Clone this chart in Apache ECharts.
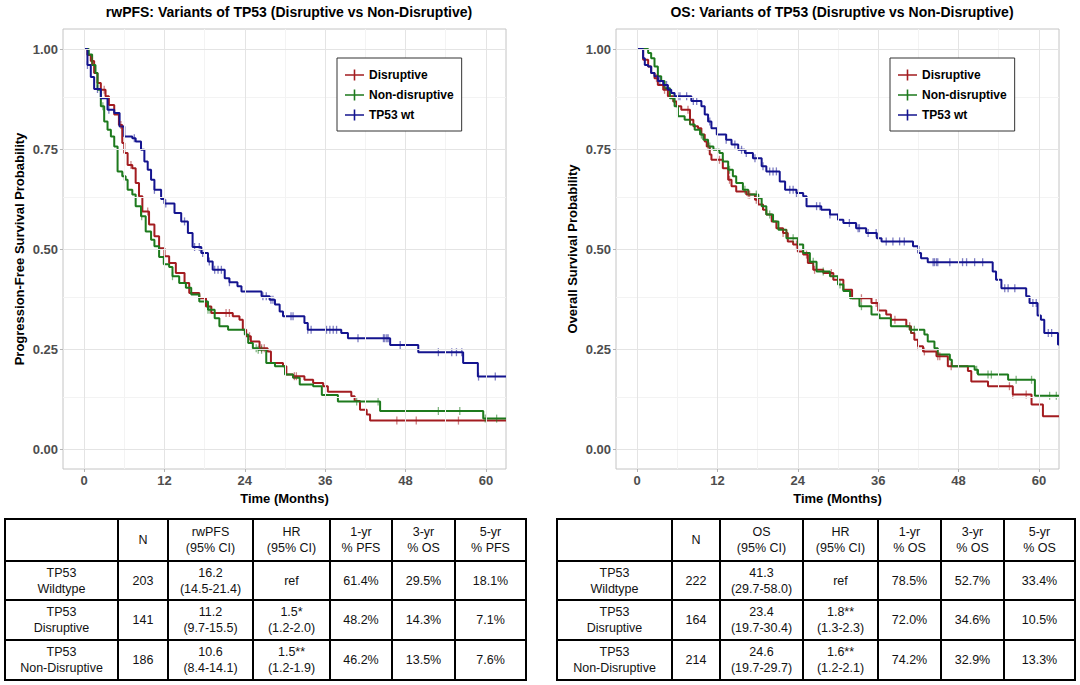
<!DOCTYPE html>
<html>
<head>
<meta charset="utf-8">
<script src="https://cdn.jsdelivr.net/npm/echarts@6/dist/echarts.min.js"></script>
<style>
html, body { margin: 0; padding: 0; background: #fff; }
#main { width: 1080px; height: 685px; }
</style>
</head>
<body>
<div id="main"></div>
<script>
// 曲线数据（月份 / 生存概率）
var pfsWtTime = [0, 0.5, 1, 1.5, 2.5, 3.5, 4.5, 5.3, 6, 7.2, 7.7, 8.5, 9, 9.5, 10, 10.5, 11.5, 12, 13.5, 14.5, 15.5, 16.2, 17.5, 18.5, 19.2, 21, 21.7, 22.9, 23.5, 26.5, 27.7, 28.5, 29.2, 29.7, 32.9, 33.4, 38.4, 39.4, 45.7, 49.9, 56.6, 58.8, 63];
var pfsWtSurv = [1, 0.96, 0.93, 0.9, 0.877, 0.848, 0.84, 0.806, 0.781, 0.777, 0.769, 0.748, 0.719, 0.698, 0.673, 0.648, 0.625, 0.614, 0.59, 0.569, 0.54, 0.505, 0.49, 0.469, 0.448, 0.427, 0.417, 0.407, 0.394, 0.382, 0.373, 0.361, 0.344, 0.332, 0.315, 0.298, 0.29, 0.277, 0.26, 0.242, 0.215, 0.181, 0.181];
var pfsWtCens = [0.5, 2, 3.7, 7.5, 10.5, 12.2, 15, 16.5, 17.2, 17.7, 18.7, 19.5, 20, 20.5, 21.7, 26.7, 27.2, 27.9, 28.2, 30.9, 31.2, 33.4, 33.9, 36.2, 36.7, 37.2, 37.7, 40.9, 44.7, 44.9, 45.2, 45.4, 47.2, 52.9, 54.9, 55.6, 56.4, 58.9, 61.4];

var pfsDisTime = [0, 0.5, 1, 1.5, 2, 2.5, 3.2, 3.7, 4.5, 5.2, 5.7, 6, 6.5, 7.2, 7.7, 8.2, 8.7, 9.7, 10.5, 11.2, 12, 12.7, 13.7, 15, 15.7, 17.2, 18.2, 19, 22.2, 23.2, 23.7, 24.2, 24.9, 26.2, 27.4, 27.9, 29.7, 30.2, 31.2, 32.9, 34.2, 35.7, 36.4, 39.9, 40.4, 41.2, 42.2, 42.7, 63];
var pfsDisSurv = [1, 0.985, 0.97, 0.94, 0.915, 0.898, 0.882, 0.86, 0.836, 0.81, 0.765, 0.74, 0.71, 0.702, 0.665, 0.632, 0.594, 0.561, 0.532, 0.502, 0.482, 0.465, 0.44, 0.415, 0.39, 0.377, 0.356, 0.34, 0.332, 0.323, 0.298, 0.282, 0.269, 0.252, 0.244, 0.215, 0.207, 0.186, 0.182, 0.173, 0.165, 0.157, 0.143, 0.132, 0.12, 0.098, 0.086, 0.071, 0.071];
var pfsDisCens = [1.2, 3, 5.5, 7, 9.5, 21.2, 21.7, 24.7, 26.5, 26.9, 31.4, 31.7, 46.7, 49.6, 55.9];

var pfsNonTime = [0, 0.7, 1.2, 1.7, 2, 2.5, 3, 3.5, 4, 4.5, 5, 5.7, 6.2, 6.5, 7.2, 7.7, 8.5, 9.2, 10, 10.5, 11.2, 11.9, 12.7, 13.2, 14.2, 15.2, 16, 17.2, 18.5, 19.5, 20.2, 21.5, 24, 24.5, 25.2, 26, 27.2, 28.5, 30, 31.2, 32.2, 34.2, 35.5, 37.9, 44.2, 59.6, 63];
var pfsNonSurv = [1, 0.986, 0.96, 0.94, 0.898, 0.857, 0.819, 0.798, 0.781, 0.756, 0.694, 0.682, 0.673, 0.648, 0.636, 0.607, 0.582, 0.544, 0.523, 0.507, 0.48, 0.462, 0.455, 0.432, 0.415, 0.403, 0.386, 0.369, 0.348, 0.327, 0.307, 0.298, 0.286, 0.265, 0.252, 0.248, 0.215, 0.207, 0.186, 0.178, 0.161, 0.157, 0.135, 0.119, 0.095, 0.076, 0.076];
var pfsNonCens = [2.8, 6, 8.6, 13.2, 18.5, 18.8, 25.7, 26, 26.5, 40.7, 43.9, 52.9, 56.1, 59.9, 61.6];

var osWtTime = [0, 0.9, 1.15, 1.65, 2.1, 2.6, 3.1, 3.9, 4.6, 5.1, 5.6, 8.1, 9.6, 10.1, 10.6, 11.1, 11.9, 13.3, 14.1, 15.1, 16.1, 17.3, 18.6, 19.3, 21.3, 22.1, 23.8, 24.8, 25.3, 27.5, 28.8, 30, 30.8, 32.7, 34.2, 35.8, 36.5, 41.2, 42, 42.4, 43.4, 53.1, 53.6, 54.4, 58.1, 58.6, 59.8, 60.3, 60.8, 62.85, 63];
var osWtSurv = [1, 0.977, 0.96, 0.956, 0.94, 0.932, 0.92, 0.91, 0.898, 0.89, 0.882, 0.87, 0.857, 0.836, 0.819, 0.802, 0.786, 0.773, 0.761, 0.748, 0.74, 0.727, 0.707, 0.694, 0.669, 0.648, 0.64, 0.632, 0.607, 0.598, 0.586, 0.573, 0.565, 0.552, 0.54, 0.527, 0.519, 0.507, 0.49, 0.477, 0.467, 0.444, 0.423, 0.402, 0.382, 0.365, 0.334, 0.323, 0.29, 0.261, 0.261];
var osWtCens = [3.4, 4.4, 6.1, 6.4, 7.4, 8.4, 8.9, 10.85, 13.3, 14.6, 15.6, 16.3, 17.6, 18.8, 19.8, 20.3, 20.8, 22.8, 23.3, 23.8, 26.8, 27.3, 28.8, 31.7, 33, 33.2, 34.5, 35.7, 37.2, 38.2, 39.2, 39.9, 44.2, 44.4, 44.7, 44.9, 46.7, 48.6, 49.2, 50.4, 51.6, 54.9, 55.4, 56.4, 59.1, 59.6, 61.4, 61.9];

var osDisTime = [0, 0.9, 1.65, 2.1, 2.6, 3.1, 3.9, 4.6, 5.4, 5.9, 6.6, 7.9, 8.4, 9.1, 9.6, 10.1, 10.4, 10.85, 11.1, 12.8, 13.6, 14.1, 14.8, 16.3, 17.6, 18.1, 18.8, 19.3, 20.1, 20.8, 21.8, 22.5, 23.3, 24, 24.8, 25.5, 26.3, 27.8, 29.3, 30.8, 32.1, 35, 36, 37.2, 37.9, 40.2, 40.9, 41.4, 41.95, 42.7, 44.7, 46.4, 49.4, 49.9, 52.4, 56.1, 58.9, 60.6, 63];
var osDisSurv = [1, 0.973, 0.956, 0.94, 0.927, 0.91, 0.898, 0.882, 0.869, 0.857, 0.848, 0.823, 0.807, 0.802, 0.786, 0.769, 0.756, 0.736, 0.723, 0.702, 0.673, 0.657, 0.644, 0.636, 0.623, 0.611, 0.598, 0.586, 0.569, 0.552, 0.54, 0.519, 0.511, 0.494, 0.486, 0.465, 0.448, 0.44, 0.423, 0.398, 0.377, 0.365, 0.346, 0.336, 0.323, 0.307, 0.29, 0.273, 0.257, 0.244, 0.232, 0.207, 0.195, 0.169, 0.157, 0.136, 0.111, 0.082, 0.082];
var osDisCens = [2.9, 4.1, 7.6, 7.9, 10.6, 12.3, 13.8, 16.6, 16.8, 17.8, 21.8, 22.3, 23.8, 25.3, 26.5, 29, 33.5, 35.7, 38.5, 40.7, 41.95, 42.9, 44.9, 45.2, 46.9, 55.6, 56.1, 58.1];

var osNonTime = [0, 1.65, 2.1, 2.6, 3.1, 3.6, 4.1, 4.9, 5.6, 6.1, 7.1, 7.9, 8.6, 9.4, 9.9, 10.6, 11.4, 12.3, 12.8, 13.6, 14.3, 14.8, 15.8, 16.6, 18.1, 18.6, 19.3, 20.3, 21.1, 22.3, 24, 24.8, 25.8, 26.8, 28.8, 30, 30.8, 31.8, 33.2, 35, 36.2, 37.9, 40.7, 42.9, 43.4, 44.4, 44.9, 46.7, 47, 50.4, 50.9, 55.4, 59.4, 63];
var osNonSurv = [1, 0.99, 0.977, 0.956, 0.932, 0.92, 0.902, 0.877, 0.857, 0.832, 0.823, 0.811, 0.798, 0.786, 0.773, 0.756, 0.748, 0.74, 0.719, 0.698, 0.682, 0.665, 0.648, 0.636, 0.627, 0.607, 0.586, 0.569, 0.548, 0.527, 0.511, 0.49, 0.468, 0.444, 0.432, 0.411, 0.395, 0.377, 0.357, 0.336, 0.327, 0.307, 0.298, 0.286, 0.269, 0.252, 0.236, 0.223, 0.207, 0.198, 0.186, 0.173, 0.133, 0.133];
var osNonCens = [5.4, 9.6, 10.85, 13.8, 16.1, 17.8, 19.8, 23.3, 26.3, 27.8, 30.3, 33.5, 40.9, 41.4, 50.7, 52.4, 52.9, 56.6, 58.9, 61.6, 62.6];

// 刻度
var xTicks = [0, 12, 24, 36, 48, 60];
var xMinor = [6, 18, 30, 42, 54];
var yTicks = [0, 0.25, 0.5, 0.75, 1];
var yMinor = [0.125, 0.375, 0.625, 0.875];

var groupNames = ['Disruptive', 'Non-disruptive', 'TP53 wt'];

// 表格
var pfsHeader = ['', 'N', 'rwPFS\n(95% CI)', 'HR\n(95% CI)', '1-yr\n% PFS', '3-yr\n% OS', '5-yr\n% PFS'];
var pfsRows = [
    ['TP53\nWildtype', '203', '16.2\n(14.5-21.4)', 'ref', '61.4%', '29.5%', '18.1%'],
    ['TP53\nDisruptive', '141', '11.2\n(9.7-15.5)', '1.5*\n(1.2-2.0)', '48.2%', '14.3%', '7.1%'],
    ['TP53\nNon-Disruptive', '186', '10.6\n(8.4-14.1)', '1.5**\n(1.2-1.9)', '46.2%', '13.5%', '7.6%']
];
var osHeader = ['', 'N', 'OS\n(95% CI)', 'HR\n(95% CI)', '1-yr\n% OS', '3-yr\n% OS', '5-yr\n% OS'];
var osRows = [
    ['TP53\nWildtype', '222', '41.3\n(29.7-58.0)', 'ref', '78.5%', '52.7%', '33.4%'],
    ['TP53\nDisruptive', '164', '23.4\n(19.7-30.4)', '1.8**\n(1.3-2.3)', '72.0%', '34.6%', '10.5%'],
    ['TP53\nNon-Disruptive', '214', '24.6\n(19.7-29.7)', '1.6**\n(1.2-2.1)', '74.2%', '32.9%', '13.3%']
];

var colRed = '#a31c20', colGreen = '#1d7a1d', colBlue = '#14148f';
var fontFam = '"Liberation Sans", Arial, sans-serif';

function survAt(ts, ss, t) {
    var v = ss[0];
    for (var i = 0; i < ts.length; i++) {
        if (ts[i] <= t) v = ss[i];
    }
    return v;
}

function kmSeries(name, gi, ts, ss, cs, color) {
    return [{
        name: name,
        type: 'line',
        xAxisIndex: gi, yAxisIndex: gi,
        step: 'end',
        symbol: 'none',
        showSymbol: false,
        silent: true,
        animation: false,
        z: 3,
        lineStyle: { color: color, width: 2 },
        itemStyle: { color: color },
        data: ts.map(function (t, i) { return [t, ss[i]]; })
    }, {
        name: name + ' (censored)',
        type: 'scatter',
        xAxisIndex: gi, yAxisIndex: gi,
        symbol: 'rect',
        symbolSize: [1.3, 8],
        silent: true,
        animation: false,
        z: 4,
        itemStyle: { color: color, opacity: 0.55 },
        data: cs.map(function (t) { return [t, survAt(ts, ss, t)]; })
    }];
}

function gridLines(gi, xs, ys, color) {
    return {
        type: 'line',
        xAxisIndex: gi, yAxisIndex: gi,
        data: [],
        z: 1,
        silent: true,
        markLine: {
            silent: true,
            animation: false,
            symbol: ['none', 'none'],
            label: { show: false },
            emphasis: { disabled: true },
            lineStyle: { color: color, width: 1, type: 'solid' },
            data: xs.map(function (v) { return { xAxis: v }; })
                .concat(ys.map(function (v) { return { yAxis: v }; }))
        }
    };
}

function xAxisFor(gi) {
    return {
        type: 'value', gridIndex: gi, min: -3.15, max: 63,
        name: 'Time (Months)', nameLocation: 'middle', nameGap: 21,
        nameTextStyle: { fontWeight: 'bold', fontSize: 13, color: '#000', fontFamily: fontFam },
        axisLine: { show: false, onZero: false },
        axisTick: { show: true, customValues: xTicks, length: 3, lineStyle: { color: '#b3b3b3' } },
        axisLabel: { customValues: xTicks, margin: 5, color: '#4d4d4d', fontWeight: 'bold', fontSize: 13, fontFamily: fontFam },
        splitLine: { show: false }
    };
}

function yAxisFor(gi, name) {
    return {
        type: 'value', gridIndex: gi, min: -0.05, max: 1.05,
        name: name, nameLocation: 'middle', nameGap: 37, nameRotate: 90,
        nameTextStyle: { fontWeight: 'bold', fontSize: 13, color: '#000', fontFamily: fontFam },
        axisLine: { show: false, onZero: false },
        axisTick: { show: true, customValues: yTicks, length: 3, lineStyle: { color: '#b3b3b3' } },
        axisLabel: {
            customValues: yTicks, margin: 5, color: '#4d4d4d', fontWeight: 'bold', fontSize: 13, fontFamily: fontFam,
            formatter: function (v) { return v.toFixed(2); }
        },
        splitLine: { show: false }
    };
}

function legendFor(left) {
    return {
        data: groupNames,
        orient: 'vertical',
        left: left, top: 58,
        z: 10,
        selectedMode: false,
        icon: 'path://M0,6L24,6L24,8L0,8Z M11,0L13,0L13,14L11,14Z',
        itemWidth: 19, itemHeight: 12, itemGap: 8,
        padding: [11, 8, 10, 8],
        borderColor: '#333', borderWidth: 1,
        backgroundColor: '#fff',
        textStyle: { fontWeight: 'bold', fontSize: 12, color: '#000', fontFamily: fontFam }
    };
}

function buildTable(cols, header, rows) {
    var rowEdges = [519, 561, 600, 640, 680];
    var all = [header].concat(rows);
    var els = [];
    all.forEach(function (row, r) {
        row.forEach(function (txt, c) {
            els.push({
                type: 'rect', silent: true,
                shape: { x: cols[c], y: rowEdges[r], width: cols[c + 1] - cols[c], height: rowEdges[r + 1] - rowEdges[r] },
                style: { fill: '#fff', stroke: '#000', lineWidth: 2 }
            });
            els.push({
                type: 'text', silent: true,
                x: (cols[c] + cols[c + 1]) / 2,
                y: (rowEdges[r] + rowEdges[r + 1]) / 2,
                style: {
                    text: txt, fill: '#111', font: '12.5px ' + fontFam, lineHeight: 16,
                    align: 'center', verticalAlign: 'middle',
                    textAlign: 'center', textVerticalAlign: 'middle'
                }
            });
        });
    });
    return els;
}

var myChart = echarts.init(document.getElementById('main'), null, { renderer: 'svg' });

var series = [
    gridLines(0, xMinor, yMinor, '#f3f3f3'),
    gridLines(0, xTicks, yTicks, '#e4e4e4'),
    gridLines(1, xMinor, yMinor, '#f3f3f3'),
    gridLines(1, xTicks, yTicks, '#e4e4e4')
]
    .concat(kmSeries('Disruptive', 0, pfsDisTime, pfsDisSurv, pfsDisCens, colRed))
    .concat(kmSeries('Non-disruptive', 0, pfsNonTime, pfsNonSurv, pfsNonCens, colGreen))
    .concat(kmSeries('TP53 wt', 0, pfsWtTime, pfsWtSurv, pfsWtCens, colBlue))
    .concat(kmSeries('Disruptive', 1, osDisTime, osDisSurv, osDisCens, colRed))
    .concat(kmSeries('Non-disruptive', 1, osNonTime, osNonSurv, osNonCens, colGreen))
    .concat(kmSeries('TP53 wt', 1, osWtTime, osWtSurv, osWtCens, colBlue));

myChart.setOption({
    backgroundColor: '#fff',
    animation: false,
    textStyle: { fontFamily: fontFam },
    title: [{
        text: 'rwPFS: Variants of TP53 (Disruptive vs Non-Disruptive)',
        left: 284, top: 0, textAlign: 'center',
        textStyle: { fontSize: 14, fontWeight: 'bold', color: '#000', fontFamily: fontFam }
    }, {
        text: 'OS: Variants of TP53 (Disruptive vs Non-Disruptive)',
        left: 837, top: 0, textAlign: 'center',
        textStyle: { fontSize: 14, fontWeight: 'bold', color: '#000', fontFamily: fontFam }
    }],
    legend: [legendFor(337), legendFor(890)],
    grid: [
        { left: 63, top: 29, width: 443, height: 440, show: true, borderColor: '#c4c4c4', borderWidth: 1, backgroundColor: '#fff' },
        { left: 616, top: 29, width: 443, height: 440, show: true, borderColor: '#c4c4c4', borderWidth: 1, backgroundColor: '#fff' }
    ],
    xAxis: [xAxisFor(0), xAxisFor(1)],
    yAxis: [yAxisFor(0, 'Progression-Free Survival Probability'), yAxisFor(1, 'Overall Survival Probability')],
    series: series,
    graphic: buildTable([5, 118, 168, 253, 330, 392, 455, 526], pfsHeader, pfsRows)
        .concat(buildTable([557, 672, 720, 803, 878, 941, 1004, 1075], osHeader, osRows))
});
</script>
</body>
</html>
